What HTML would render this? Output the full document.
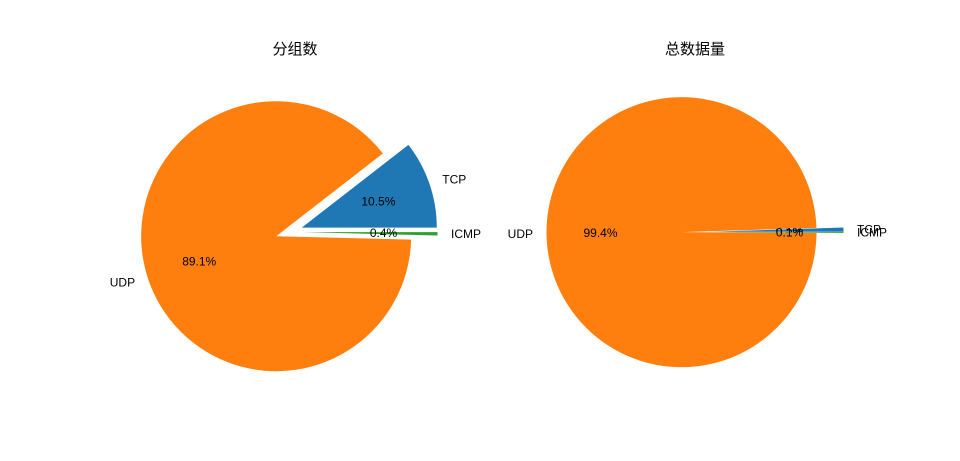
<!DOCTYPE html>
<html><head><meta charset="utf-8"><style>
body{margin:0;background:#fff}
svg{display:block}
text{font-family:"Liberation Sans","WenQuanYi Zen Hei","Noto Sans CJK SC",sans-serif;font-size:12px;fill:#000}
.t{font-size:15px}
</style></head><body>
<svg id="c" width="960" height="461" viewBox="0 0 960 461">
<text class="t" x="295" y="54" text-anchor="middle">分组数</text>
<text class="t" x="695" y="54" text-anchor="middle">总数据量</text>
</svg>
<script>
const categories = ["TCP","UDP","ICMP"];
const packetShares = [10.5, 89.1, 0.4];
const byteShares = [0.5, 99.4, 0.1];
const colors = ["#1f77b4","#ff7f0e","#2ca02c"];
const svg = document.getElementById('c');
const NS = "http://www.w3.org/2000/svg";
function pie(vals, cx, cy, r, key){
  const total = vals.reduce((a,b)=>a+b,0);
  let a0 = 0;
  vals.forEach((v,i)=>{
    const a1 = a0 + v/total*360;
    const mid = (a0+a1)/2*Math.PI/180;
    const ex = 0.1*r;
    const ox = cx + ex*Math.cos(mid), oy = cy - ex*Math.sin(mid);
    const r0 = a0*Math.PI/180, r1 = a1*Math.PI/180;
    const x0 = ox + r*Math.cos(r0), y0 = oy - r*Math.sin(r0);
    const x1 = ox + r*Math.cos(r1), y1 = oy - r*Math.sin(r1);
    const large = (a1-a0) > 180 ? 1 : 0;
    const p = document.createElementNS(NS,'path');
    p.setAttribute('d',`M${ox},${oy} L${x0},${y0} A${r},${r} 0 ${large} 0 ${x1},${y1} Z`);
    p.setAttribute('fill',colors[i]);
    
    
    svg.appendChild(p);
    const lx = ox + 1.1*r*Math.cos(mid), ly = oy - 1.1*r*Math.sin(mid);
    const lt = document.createElementNS(NS,'text');
    lt.setAttribute('x',lx); lt.setAttribute('y',ly+4);
    lt.setAttribute('text-anchor', Math.cos(mid) >= 0 ? 'start' : 'end');
    lt.textContent = categories[i];
    
    
    svg.appendChild(lt);
    const px = ox + 0.6*r*Math.cos(mid), py = oy - 0.6*r*Math.sin(mid);
    const pt = document.createElementNS(NS,'text');
    pt.setAttribute('x',px); pt.setAttribute('y',py+4);
    pt.setAttribute('text-anchor','middle');
    pt.textContent = v.toFixed(1)+'%';
    
    
    svg.appendChild(pt);
    a0 = a1;
  });
}
pie(packetShares, 289, 232, 135, 'packets');
pie(byteShares, 695, 232, 135, 'bytes');
</script>
</body></html>
